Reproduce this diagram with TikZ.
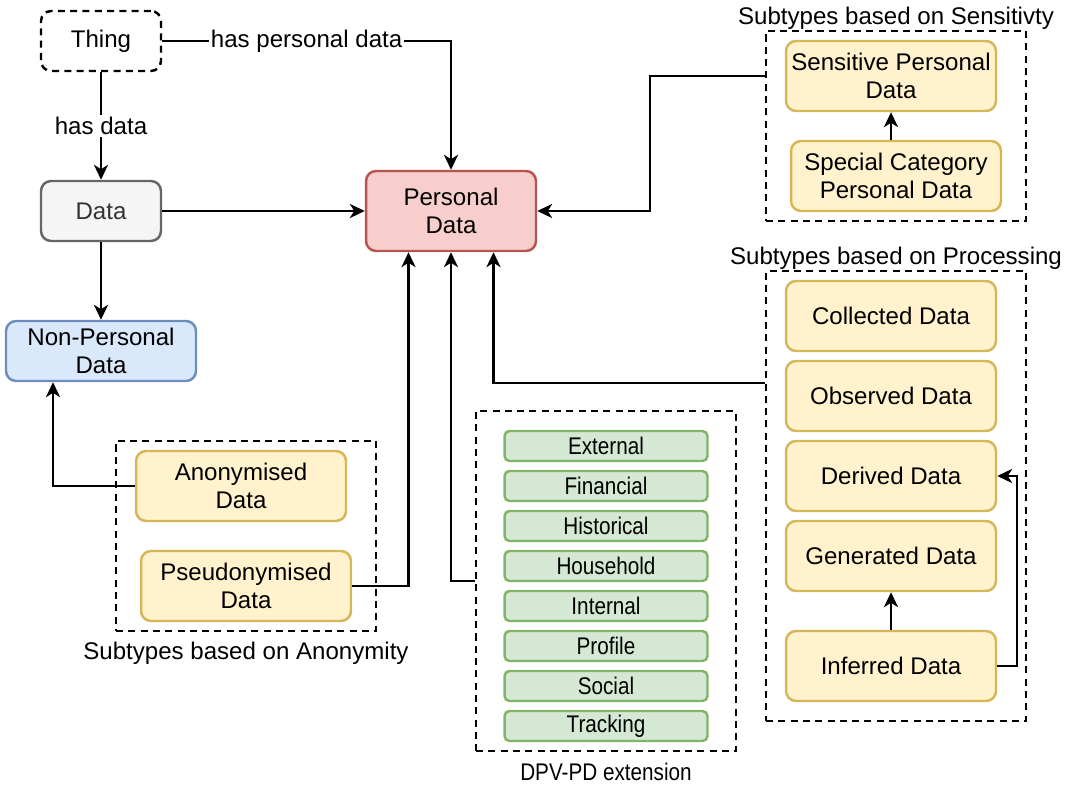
\documentclass[tikz,border=0pt]{standalone}
\usepackage{fontspec}
\setmainfont{Liberation Sans}
\newfontfamily\narrowsf[FakeStretch=0.86]{Liberation Sans}
\usetikzlibrary{arrows.meta}
\definecolor{grayfill}{HTML}{F5F5F5}
\definecolor{graydraw}{HTML}{666666}
\definecolor{graytext}{HTML}{333333}
\definecolor{bluefill}{HTML}{DAE8FC}
\definecolor{bluedraw}{HTML}{6C8EBF}
\definecolor{redfill}{HTML}{F8CECC}
\definecolor{reddraw}{HTML}{B85450}
\definecolor{yfill}{HTML}{FFF2CC}
\definecolor{ydraw}{HTML}{D6B656}
\definecolor{gfill}{HTML}{D5E8D4}
\definecolor{gdraw}{HTML}{82B366}

\begin{document}
\begin{tikzpicture}[x=0.02cm,y=-0.02cm,
    font=\fontsize{13.7}{16}\selectfont,
    >={Stealth[length=8.5pt,width=8pt,inset=2.5pt]}, line width=1.4pt,
    box/.style={draw,rounded corners=0.2cm,align=center,inner sep=0pt},
    yellowbox/.style={box,fill=yfill,draw=ydraw,minimum width=4.2cm,minimum height=1.4cm},
    greenbox/.style={box,rounded corners=0.1cm,fill=gfill,draw=gdraw,minimum width=4.06cm,
      minimum height=0.6cm,font=\fontsize{13.7}{16}\narrowsf},
    group/.style={draw,dash pattern=on 4pt off 3pt,minimum width=5.2cm,inner sep=0pt}]
    \useasboundingbox (0,0) rectangle (1067,793);

    % groups
    \node[group,minimum height=3.8cm] (anonbox) at (246,536) {};
    \node (anonlabel) at (246,653) {Subtypes based on Anonymity};
    \node[group,minimum height=6.8cm] (dpvbox) at (606,581) {};
    \node[font=\fontsize{13.7}{16}\narrowsf] (dpvlabel) at (606,772) {DPV-PD extension};
    \node[group,minimum height=3.8cm] (sensbox) at (896,126) {};
    \node (senslabel) at (896,18) {Subtypes based on Sensitivty};
    \node[group,minimum height=9cm] (procbox) at (896,496) {};
    \node (proclabel) at (896,258) {Subtypes based on Processing};

    % main classes
    \node[box,dash pattern=on 4pt off 3pt,minimum width=2.4cm,minimum height=1.2cm] (thing) at (101,41) {Thing};
    \node[box,fill=grayfill,draw=graydraw,text=graytext,minimum width=2.4cm,minimum height=1.2cm] (data) at (101,211) {Data};
    \node[box,fill=bluefill,draw=bluedraw,minimum width=3.8cm,minimum height=1.2cm] (npd) at (101,351) {Non-Personal\\Data};
    \node[box,fill=redfill,draw=reddraw,minimum width=3.4cm,minimum height=1.6cm] (pd) at (451,211) {Personal\\Data};

    \node[yellowbox] (anon) at (241,486) {Anonymised\\Data};
    \node[yellowbox] (pseudo) at (246,586) {Pseudonymised\\Data};

    \node[yellowbox] (sens) at (891,76) {Sensitive Personal\\Data};
    \node[yellowbox] (spc) at (896,176) {Special Category\\Personal Data};

    \node[yellowbox] (col) at (891,316) {Collected Data};
    \node[yellowbox] (obs) at (891,396) {Observed Data};
    \node[yellowbox] (der) at (891,476) {Derived Data};
    \node[yellowbox] (gen) at (891,556) {Generated Data};
    \node[yellowbox] (inf) at (891,666) {Inferred Data};

    \node[greenbox] (ext) at (606,446) {External};
    \node[greenbox] (fin) at (606,486) {Financial};
    \node[greenbox] (his) at (606,526) {Historical};
    \node[greenbox] (hou) at (606,566) {Household};
    \node[greenbox] (int) at (606,606) {Internal};
    \node[greenbox] (pro) at (606,646) {Profile};
    \node[greenbox] (soc) at (606,686) {Social};
    \node[greenbox] (tra) at (606,726) {Tracking};

    % connectors
    \draw[->] (thing) -- node[fill=white,inner sep=1pt] (hasdata) {has data} (data);
    \draw[->] (thing.east) -| node[pos=0.25,fill=white,inner sep=1pt] (haspd) {has personal data} (pd.north);
    \draw[->] (data) -- (pd);
    \draw[->] (data) -- (npd);
    \draw[->] (anon.west) -| ([xshift=-0.96cm]npd.south);
    \draw[->] (pseudo.east) -| ([xshift=-0.85cm]pd.south);
    \draw[->] (dpvbox.west) -| (pd.south);
    \draw[->] ([yshift=2.26cm]procbox.west) -| ([xshift=0.85cm]pd.south);
    \draw[->] (sensbox.west |- sens) -- ++(-115,0) |- (pd.east);
    \draw[->] (sens.south |- spc.north) -- (sens.south);
    \draw[->] (inf) -- (gen);
    \draw[->] (inf.east) -- ++(20,0) |- (der.east);
\end{tikzpicture}
\end{document}
